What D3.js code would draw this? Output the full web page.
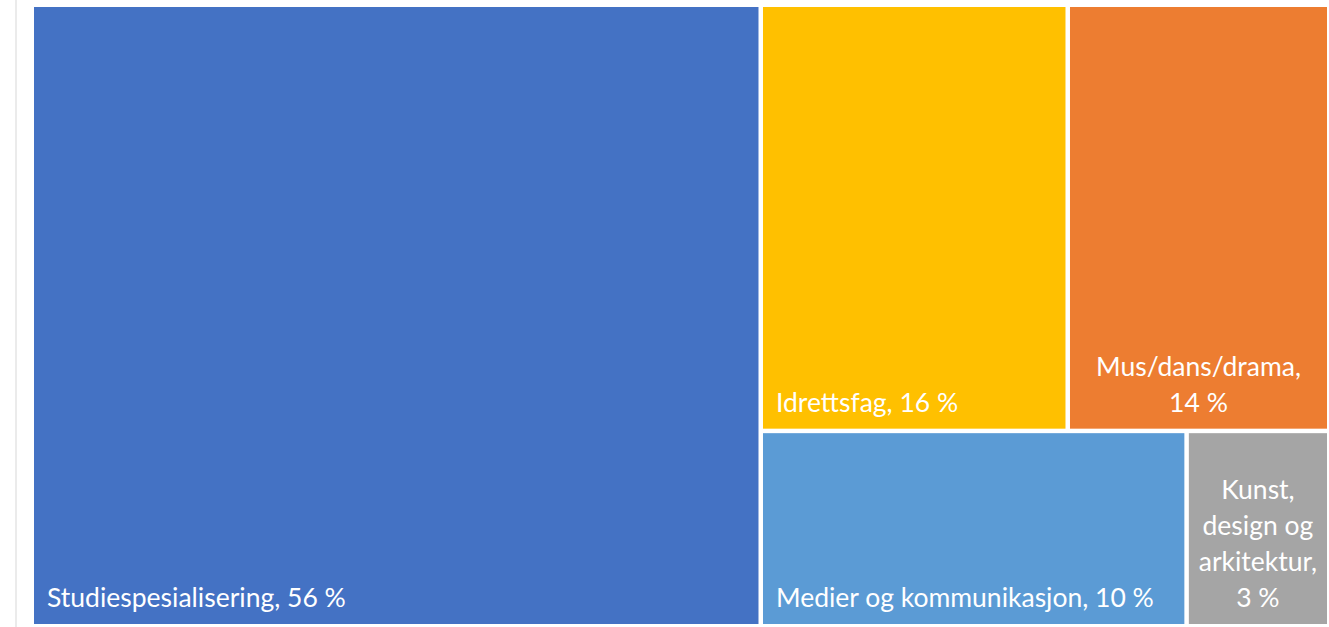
<!DOCTYPE html>
<html>
<head>
<meta charset="utf-8">
<script src="https://cdn.jsdelivr.net/npm/d3@7"></script>
<style>
  html, body { margin: 0; padding: 0; background: #fff; }
  svg { display: block; }
  text { font-family: Lato, "Noto Sans", sans-serif; fill: #fff; }
</style>
</head>
<body>
<svg id="chart" width="1329" height="627"></svg>
<script>
const categories = ["Studiespesialisering", "Idrettsfag", "Mus/dans/drama", "Medier og kommunikasjon", "Kunst, design og arkitektur"];
const shares = [56.1, 16.2, 13.8, 10.3, 3.45];
const colors = ["#4472C4", "#FFC000", "#ED7D31", "#5B9BD5", "#A5A5A5"];

const W = 1329, H = 627;
const box = { x0: 34, y0: 7, x1: 1327, y1: 624 };
const fontSize = 26.5, lineH = 36, padX = 13, padBottom = 17;

const svg = d3.select("#chart");

// faint chart-area border on the left
svg.append("line")
  .attr("x1", 16).attr("x2", 16).attr("y1", 0).attr("y2", H)
  .attr("stroke", "#ebebeb").attr("stroke-width", 2);

const data = { children: categories.map((c, i) => ({ name: c, value: shares[i], color: colors[i] })) };
const root = d3.hierarchy(data).sum(d => d.value || 0).sort((a, b) => b.value - a.value);

d3.treemap()
  .tile(d3.treemapSquarify.ratio(1))
  .size([box.x1 - box.x0, box.y1 - box.y0])
  .paddingInner(4.5)(root);

const g = svg.append("g").attr("transform", `translate(${box.x0},${box.y0})`);

const cells = g.selectAll("g.cell").data(root.leaves()).join("g").attr("class", "cell");

cells.append("rect")
  .attr("x", d => d.x0).attr("y", d => d.y0)
  .attr("width", d => d.x1 - d.x0).attr("height", d => d.y1 - d.y0)
  .attr("fill", d => d.data.color);

// measuring helper
const meas = svg.append("text").attr("font-size", fontSize).attr("visibility", "hidden");
function tw(s) { meas.text(s); return meas.node().getComputedTextLength(); }

cells.each(function(d) {
  const label = `${d.data.name}, ${Math.round(d.data.value)}\u00A0%`;
  const w = d.x1 - d.x0;
  const sel = d3.select(this);
  if (tw(label) <= w - 2 * padX) {
    sel.append("text")
      .attr("x", d.x0 + padX).attr("y", d.y1 - padBottom)
      .attr("font-size", fontSize)
      .text(label);
  } else {
    const words = label.split(" ");
    const maxW = w - 12;
    const lines = [];
    let cur = "";
    words.forEach(wd => {
      const t = cur ? cur + " " + wd : wd;
      if (cur && tw(t) > maxW) { lines.push(cur); cur = wd; } else cur = t;
    });
    if (cur) lines.push(cur);
    const cx = (d.x0 + d.x1) / 2;
    lines.forEach((ln, i) => {
      sel.append("text")
        .attr("x", cx)
        .attr("y", d.y1 - padBottom - (lines.length - 1 - i) * lineH)
        .attr("text-anchor", "middle")
        .attr("font-size", fontSize)
        .text(ln);
    });
  }
});
meas.remove();
</script>
</body>
</html>
